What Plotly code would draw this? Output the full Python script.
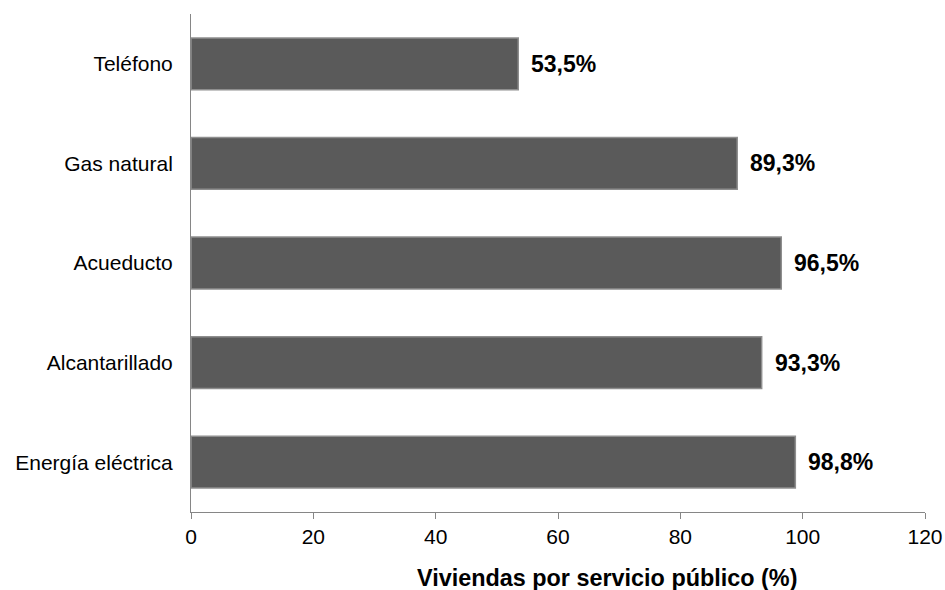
import plotly.graph_objects as go

categories = ["Energía eléctrica", "Alcantarillado", "Acueducto", "Gas natural", "Teléfono"]
values = [98.8, 93.3, 96.5, 89.3, 53.5]
x_ticks = [0, 20, 40, 60, 80, 100, 120]
x_title = "Viviendas por servicio público (%)"

fig = go.Figure()

fig.add_trace(go.Bar(
    y=categories, x=values, orientation="h",
    marker=dict(color="#5a5a5a", line=dict(color="#8e8e8e", width=1.5)),
    width=0.52, hoverinfo="skip",
))

fig.update_layout(
    width=945, height=590,
    margin=dict(l=191, r=20, t=14, b=78, autoexpand=False),
    paper_bgcolor="white", plot_bgcolor="white",
    showlegend=False,
    font=dict(family="Liberation Sans, Arial, sans-serif", size=21, color="#000000"),
    xaxis=dict(
        range=[0, 120], tickvals=x_ticks, ticktext=[str(v) for v in x_ticks],
        showgrid=False, zeroline=False, automargin=False,
        showline=True, linecolor="#868686", linewidth=1,
        ticks="outside", ticklen=6, tickcolor="#868686",
        tickfont=dict(size=21),
    ),
    yaxis=dict(
        showgrid=False, zeroline=False, automargin=False,
        showline=True, linecolor="#868686", linewidth=1,
        ticks="", ticklabelstandoff=13,
        tickfont=dict(size=21),
        range=[-0.5, 4.5],
    ),
)

# axis title, set slightly right of the plot centre
fig.add_annotation(
    xref="paper", yref="paper", x=0.5674, y=0, yshift=-66,
    xanchor="center", yanchor="middle", showarrow=False,
    text="<b>" + x_title + "</b>", font=dict(size=23.4, color="#000000"),
)

for cat, val in zip(categories, values):
    fig.add_annotation(
        x=val, y=cat, text="<b>" + f"{val:.1f}".replace(".", ",") + "%</b>",
        showarrow=False, xanchor="left", xshift=11,
        font=dict(size=23, color="#000000"),
    )

fig.write_html("out.html")
